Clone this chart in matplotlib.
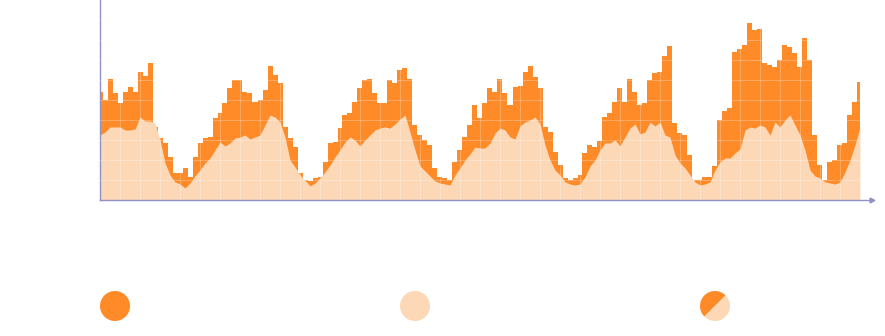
import numpy as np
import matplotlib
matplotlib.use("Agg")
import matplotlib.pyplot as plt
from matplotlib.patches import Circle, Wedge

# two series, one value every sample (same scale for both)
upper = [108, 100, 121, 107, 97, 108, 113, 108, 128, 124, 137, 73, 62, 57, 43, 27, 27, 32, 23, 43,
         57, 62, 63, 82, 87, 97, 112, 120, 120, 108, 107, 98, 100, 110, 134, 125, 117, 73, 62, 53,
         27, 20, 19, 22, 23, 38, 57, 58, 72, 85, 87, 98, 112, 120, 121, 107, 97, 97, 120, 117,
         130, 132, 121, 75, 65, 60, 55, 32, 23, 22, 20, 38, 50, 63, 75, 95, 82, 97, 112, 108,
         121, 107, 95, 113, 114, 128, 134, 123, 112, 73, 68, 48, 35, 22, 20, 22, 25, 47, 55, 53,
         59, 83, 87, 98, 112, 98, 121, 108, 95, 97, 120, 127, 128, 144, 154, 77, 67, 65, 45, 20,
         20, 23, 23, 34, 80, 89, 92, 148, 151, 155, 177, 170, 171, 137, 135, 133, 140, 155, 153, 147,
         133, 162, 140, 65, 35, 20, 38, 40, 55, 57, 85, 98, 118]
lower = [65, 68, 73, 73, 73, 70, 70, 71, 83, 79, 79, 77, 60, 37, 25, 18, 16, 12, 17, 24,
         30, 37, 42, 50, 58, 54, 57, 62, 63, 65, 61, 63, 65, 75, 85, 83, 78, 63, 40, 33,
         25, 20, 14, 17, 22, 28, 35, 43, 50, 58, 63, 60, 54, 60, 65, 70, 72, 73, 72, 76,
         81, 85, 68, 50, 34, 29, 24, 19, 17, 16, 15, 25, 32, 40, 46, 53, 52, 52, 57, 67,
         72, 70, 63, 61, 74, 78, 80, 83, 76, 55, 40, 30, 25, 18, 16, 15, 16, 23, 34, 40,
         50, 57, 57, 60, 54, 63, 72, 76, 66, 68, 78, 74, 78, 65, 63, 45, 37, 32, 25, 18,
         15, 16, 18, 30, 38, 42, 42, 47, 51, 70, 73, 72, 75, 73, 65, 78, 73, 80, 85, 75,
         65, 50, 30, 24, 22, 18, 17, 16, 18, 28, 40, 55, 73]

orange = '#fe8a28'
peach = '#fdd8b6'
axis_col = '#9390c4'

x = np.arange(len(upper))

fig = plt.figure(figsize=(8.85, 3.36), dpi=100)
ax = fig.add_axes([100/885, 136/336, 772/885, 200/336])

ax.fill_between(x, 0, upper, step='mid', color=orange, lw=0, zorder=1)
ax.fill_between(x, 0, lower, color=peach, lw=0, zorder=2)

# faint white grid over the filled areas
for gx in np.arange(4, len(x), 4):
    ax.axvline(gx, color='white', lw=0.8, alpha=0.25, zorder=3)
for gy in range(20, 200, 20):
    ax.axhline(gy, color='white', lw=0.8, alpha=0.25, zorder=3)

ax.set_xlim(0, 154.4)
ax.set_ylim(0, 200)
ax.set_xticks([])
ax.set_yticks([])
for s in ['top', 'right']:
    ax.spines[s].set_visible(False)
for s in ['left', 'bottom']:
    ax.spines[s].set_color(axis_col)
    ax.spines[s].set_linewidth(1)
ax.plot([1], [0], marker='>', ms=3.5, color=axis_col, transform=ax.transAxes, clip_on=False)

# legend circles
lg = fig.add_axes([0, 0, 1, 1])
lg.set_xlim(0, 885)
lg.set_ylim(336, 0)
lg.axis('off')
lg.add_patch(Circle((115, 306), 15, color=orange, lw=0))
lg.add_patch(Circle((415, 306), 15, color=peach, lw=0))
lg.add_patch(Wedge((715, 306), 15, 135, 315, color=orange, lw=0))
lg.add_patch(Wedge((715, 306), 15, -45, 135, color=peach, lw=0))

fig.savefig('out.png', dpi=100)
